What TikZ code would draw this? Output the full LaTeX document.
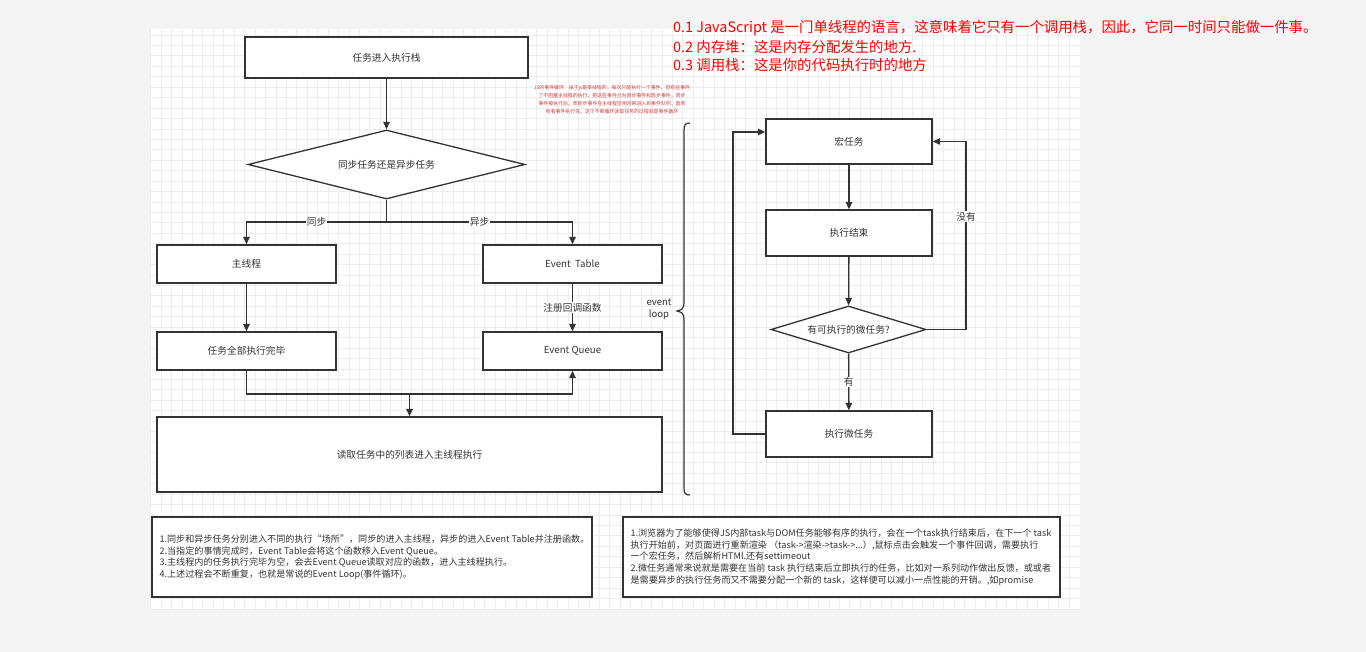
\documentclass[tikz,border=0pt]{standalone}
\usepackage{fontspec}
\setmainfont{Noto Sans CJK SC}
\usetikzlibrary{shapes.geometric,arrows.meta}

\definecolor{ink}{HTML}{333333}
\definecolor{gridc}{HTML}{EDEDED}
\definecolor{pagebg}{HTML}{F4F4F4}
\definecolor{hot}{HTML}{FF0000}
\definecolor{smallred}{HTML}{D03A3A}

\tikzset{
  box/.style={draw=ink, line width=1.3pt, fill=white, text=ink,
    font=\fontsize{9.7}{12}\selectfont, inner sep=0pt},
  dia/.style={box, diamond, aspect=4},
  arr/.style={draw=ink, line width=1.3pt, -{Triangle[length=7.5pt,width=6.5pt]}},
  wire/.style={draw=ink, line width=1.3pt},
  lbl/.style={fill=white, text=ink, font=\fontsize{9.7}{12}\selectfont, inner sep=1pt},
  notebox/.style={draw=ink, line width=1.3pt, fill=white, inner sep=0pt},
  notetext/.style={text=ink, font=\fontsize{9.1}{11.6}\selectfont, align=left, inner sep=0pt, anchor=west},
  redline/.style={text=hot, font=\fontsize{14.4}{18}\selectfont, inner sep=0pt, anchor=west}
}

\begin{document}
\begin{tikzpicture}[x=1pt, y=-1pt]
\useasboundingbox (0,0) rectangle (1366,652);

% page and grid canvas
\fill[pagebg] (0,0) rectangle (1366,652);
\fill[white] (150,29) rectangle (1080,610);
\foreach \i in {0,...,88}
  \draw[gridc, line width=0.8pt] ({150.7+\i*10.435},29) -- ++(0,581);
\foreach \j in {0,...,55}
  \draw[gridc, line width=0.8pt] (150,{35+\j*10.435}) -- ++(930,0);

% left flow: task dispatch
\node[box, minimum width=283pt, minimum height=41pt] (start) at (386.5,57.5) {任务进入执行栈};
\node[dia, minimum width=277pt, minimum height=69pt] (dec) at (386.5,164.5) {同步任务还是异步任务};
\node[box, minimum width=179pt, minimum height=38pt] (main) at (246.5,264) {主线程};
\node[box, minimum width=179pt, minimum height=38pt] (etable) at (572.5,264) {Event\ \ Table};
\node[box, minimum width=179pt, minimum height=38pt] (done) at (246.5,351) {任务全部执行完毕};
\node[box, minimum width=179pt, minimum height=38pt] (equeue) at (572.5,351) {Event Queue};
\node[box, minimum width=505pt, minimum height=75pt] (read) at (409.5,454.5) {读取任务中的列表进入主线程执行};

\coordinate (split) at (386.5,222);
\coordinate (merge) at (409.5,394);

\draw[arr] (start) -- (dec);
\draw[wire] (dec.south) -- (split);
\draw[arr] (split) -| node[lbl, pos=0.25] {同步} (main.north);
\draw[arr] (split) -| node[lbl, pos=0.25] {异步} (etable.north);
\draw[arr] (main) -- (done);
\draw[arr] (etable) -- node[lbl] {注册回调函数} (equeue);
\draw[wire] (done.south) |- (merge);
\draw[arr] (merge) -| (equeue.south);
\draw[arr] (merge) -- (read.north);

% event loop brace
\draw[wire, line width=1.2pt] (690,123) .. controls (685,123) and (684,125) .. (684,131)
  -- (684,303) .. controls (684,308) and (682,310) .. (677,311)
  .. controls (682,312) and (684,314) .. (684,319)
  -- (684,488) .. controls (684,493) and (685,495) .. (690,495);
\node[text=ink, font=\fontsize{9.5}{12}\selectfont, align=center, inner sep=0pt] (looplbl) at (659,309) {event\\loop};

% right flow: macro / micro tasks
\node[box, minimum width=166pt, minimum height=45pt] (macro) at (849,141.5) {宏任务};
\node[box, minimum width=166pt, minimum height=46pt] (fin) at (849,233) {执行结束};
\node[dia, minimum width=155pt, minimum height=47pt] (mdec) at (848.5,329.5) {有可执行的微任务?};
\node[box, minimum width=166pt, minimum height=46pt] (mexec) at (849,434) {执行微任务};

\coordinate (rcorner) at (966,329.5);
\coordinate (lcorner) at (733,434);

\draw[arr] (macro) -- (fin);
\draw[arr] (fin) -- (mdec);
\draw[arr] (mdec) -- node[lbl] {有} (mexec);
\draw[arr] (mdec.east) -- (rcorner) |- node[lbl, pos=0.3] {没有} (macro.east);
\draw[arr] (mexec.west) -- (lcorner) |- ([yshift=9.5pt]macro.west);

% notes
\node[notebox, minimum width=440pt, minimum height=80pt] (note1) at (372,557) {};
\node[notetext] (note1t) at ([xshift=8pt]note1.west) {1.同步和异步任务分别进入不同的执行“场所”，同步的进入主线程，异步的进入Event Table并注册函数。\\
2.当指定的事情完成时，Event Table会将这个函数移入Event Queue。\\
3.主线程内的任务执行完毕为空，会去Event Queue读取对应的函数，进入主线程执行。\\
4.上述过程会不断重复，也就是常说的Event Loop(事件循环)。};

\node[notebox, minimum width=437pt, minimum height=80pt] (note2) at (841.5,557) {};
\node[notetext] (note2t) at ([xshift=8pt]note2.west) {1.浏览器为了能够使得JS内部task与DOM任务能够有序的执行，会在一个task执行结束后，在下一个 task\\
执行开始前，对页面进行重新渲染 （task->渲染->task->...）,鼠标点击会触发一个事件回调，需要执行\\
一个宏任务，然后解析HTMl.还有settimeout\\
2.微任务通常来说就是需要在当前 task 执行结束后立即执行的任务，比如对一系列动作做出反馈，或或者\\
是需要异步的执行任务而又不需要分配一个新的 task，这样便可以减小一点性能的开销。,如promise};

% red remarks
\node[redline] (r1) at (673,28) {0.1 JavaScript 是一门单线程的语言，这意味着它只有一个调用栈，因此，它同一时间只能做一件事。};
\node[redline] (r2) at (673,47) {0.2 内存堆：这是内存分配发生的地方.};
\node[redline] (r3) at (673,65.5) {0.3 调用栈：这是你的代码执行时的地方};

\node[text=smallred, font=\fontsize{4.9}{8.2}\selectfont, align=center, inner sep=0pt] (tiny) at (612,99.5)
 {JS的事件循环：由于js是单线程的，每次只能执行一个事件，但有些事件\\
  了不阻塞主线程的执行，把这些事件分为同步事件和异步事件，同步\\
  事件被执行后，而异步事件在主线程空闲时再进入到事件队列，直到\\
  所有事件执行完，这个不断循环读取任务的过程就是事件循环};
\end{tikzpicture}
\end{document}
